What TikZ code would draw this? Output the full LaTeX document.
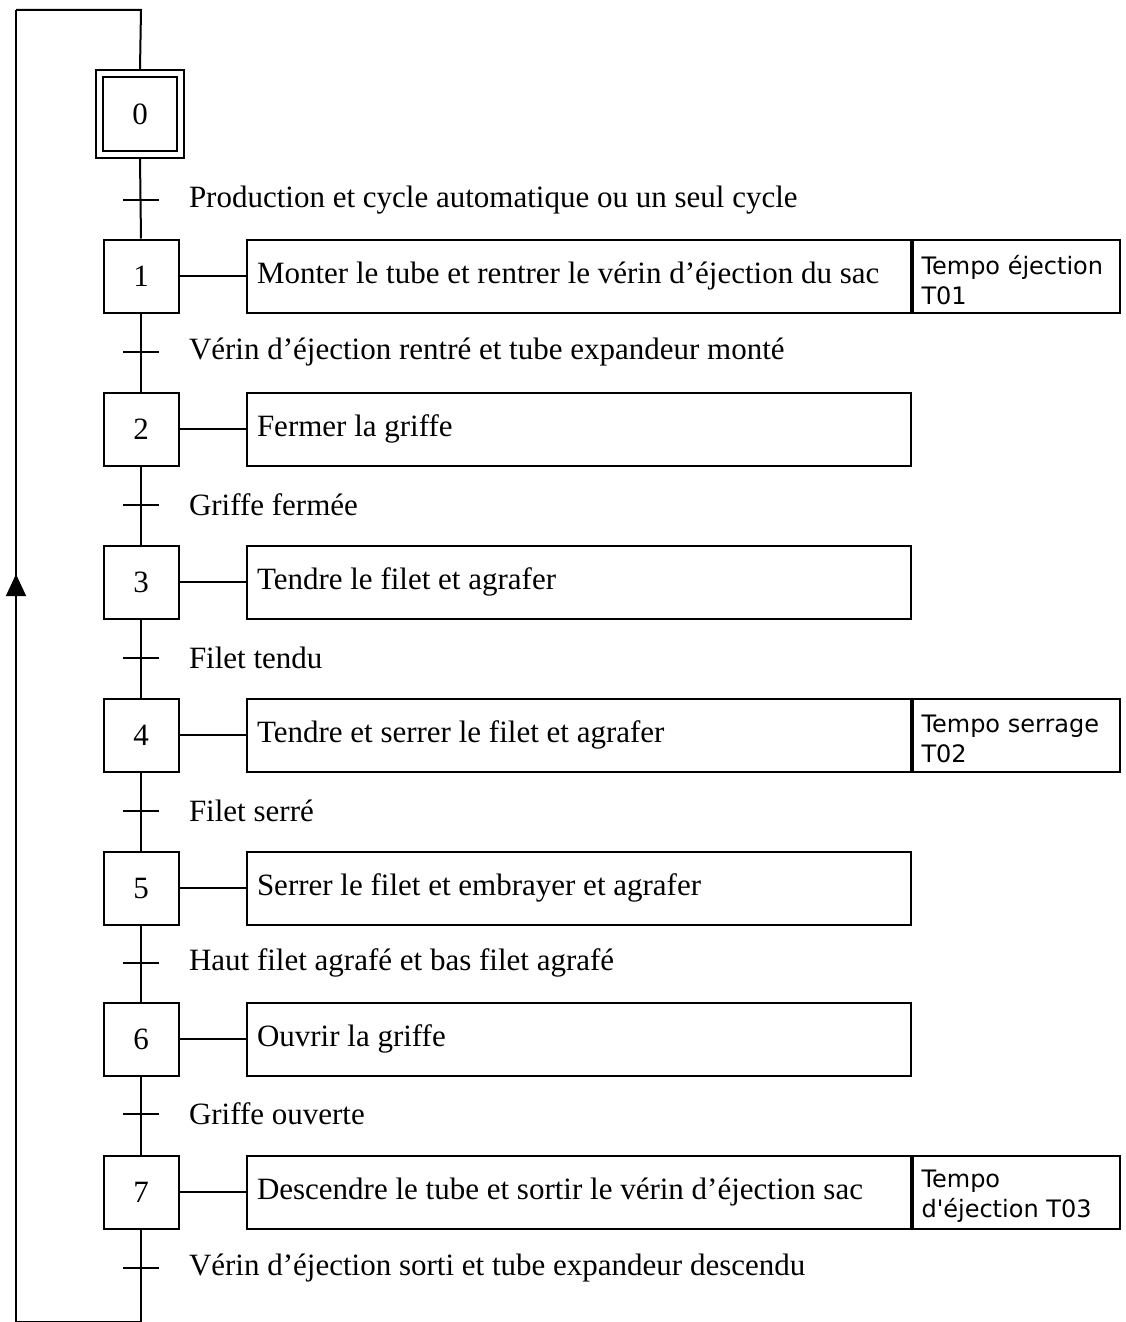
\documentclass[tikz,border=0pt]{standalone}
\usepackage{fontspec}
\setmainfont{Liberation Serif}
\newfontfamily\tempofont{DejaVu Sans}
\usetikzlibrary{arrows.meta,decorations.markings}
\newcommand{\acttext}[1]{\makebox[322pt][l]{#1}}
\newcommand{\tempotext}[2]{\raisebox{-2pt}[\height][\depth]{\parbox[c]{95pt}{\raggedright #1\\#2}}}
\begin{document}
\begin{tikzpicture}[x=0.5pt,y=-0.5pt, line width=1pt,
  serif/.style={font=\fontsize{15.5}{18}\selectfont},
  stepbox/.style={draw, serif, minimum width=37.5pt, minimum height=36.5pt, inner sep=0pt},
  outerbox/.style={draw, minimum width=44pt, minimum height=44pt, inner sep=0pt},
  actbox/.style={draw, anchor=west, minimum width=332pt, minimum height=36.5pt, inner xsep=5pt, font=\fontsize{15.5}{18}\selectfont},
  tempobox/.style={draw, anchor=west, minimum width=103.5pt, minimum height=36.5pt, inner xsep=4.25pt, inner ysep=0pt, font=\tempofont\fontsize{12}{15}\selectfont},
  cond/.style={serif, anchor=west, inner sep=0pt},
  tickline/.style={line width=1pt}]
\useasboundingbox (0,0) rectangle (1125,1322);
% initial step
\node[stepbox, minimum width=37pt, minimum height=37pt] (s0) at (140,114) {0};
\node[outerbox] (s0o) at (140,114) {};
% steps and actions
\foreach \i/\y/\act in {1/276/{Monter le tube et rentrer le vérin d’éjection du sac},
  2/429/{Fermer la griffe},
  3/582/{Tendre le filet et agrafer},
  4/735/{Tendre et serrer le filet et agrafer},
  5/888/{Serrer le filet et embrayer et agrafer},
  6/1039/{Ouvrir la griffe},
  7/1192/{Descendre le tube et sortir le vérin d’éjection sac}} {
  \node[stepbox] (s\i) at (141,\y) {\i};
  \node[actbox] (a\i) at (246,\y) {\acttext{\act}};
  \draw (s\i.east) -- (a\i.west);
}
% timers
\node[tempobox] (p1) at (a1.east) {\tempotext{Tempo éjection}{T01}};
\node[tempobox] (p4) at (a4.east) {\tempotext{Tempo serrage}{T02}};
\node[tempobox] (p7) at (a7.east) {\tempotext{Tempo}{d'éjection T03}};
% links between steps
\draw (s0o.south) -- (s1.north);
\foreach \i/\j in {1/2,2/3,3/4,4/5,5/6,6/7} {
  \draw (s\i.south) -- (s\j.north);
}
% transitions
\foreach \k/\y/\txt in {0/200/{Production et cycle automatique ou un seul cycle},
  1/352/{Vérin d’éjection rentré et tube expandeur monté},
  2/505/{Griffe fermée},
  3/658/{Filet tendu},
  4/811/{Filet serré},
  5/963/{Haut filet agrafé et bas filet agrafé},
  6/1114/{Griffe ouverte},
  7/1268/{Vérin d’éjection sorti et tube expandeur descendu}} {
  \coordinate (t\k) at (141,\y);
  \draw[tickline] (t\k) ++(-18,0) -- ++(36,0);
  \node[cond] (c\k) at (188,\y) {\txt};
}
% loop back
\coordinate (b) at (141,1322);
\coordinate (bl) at (16,1322);
\coordinate (tl) at (16,10);
\coordinate (tr) at (141,10);
\draw (s7.south) -- (b) -- (bl);
\draw[postaction={decorate}, decoration={markings, mark=at position 0.57 with {\arrow{Triangle[width=10pt,length=11pt]}}}] (bl) -- (tl);
\draw (tl) -- (tr) -- (s0o.north);
\end{tikzpicture}
\end{document}
